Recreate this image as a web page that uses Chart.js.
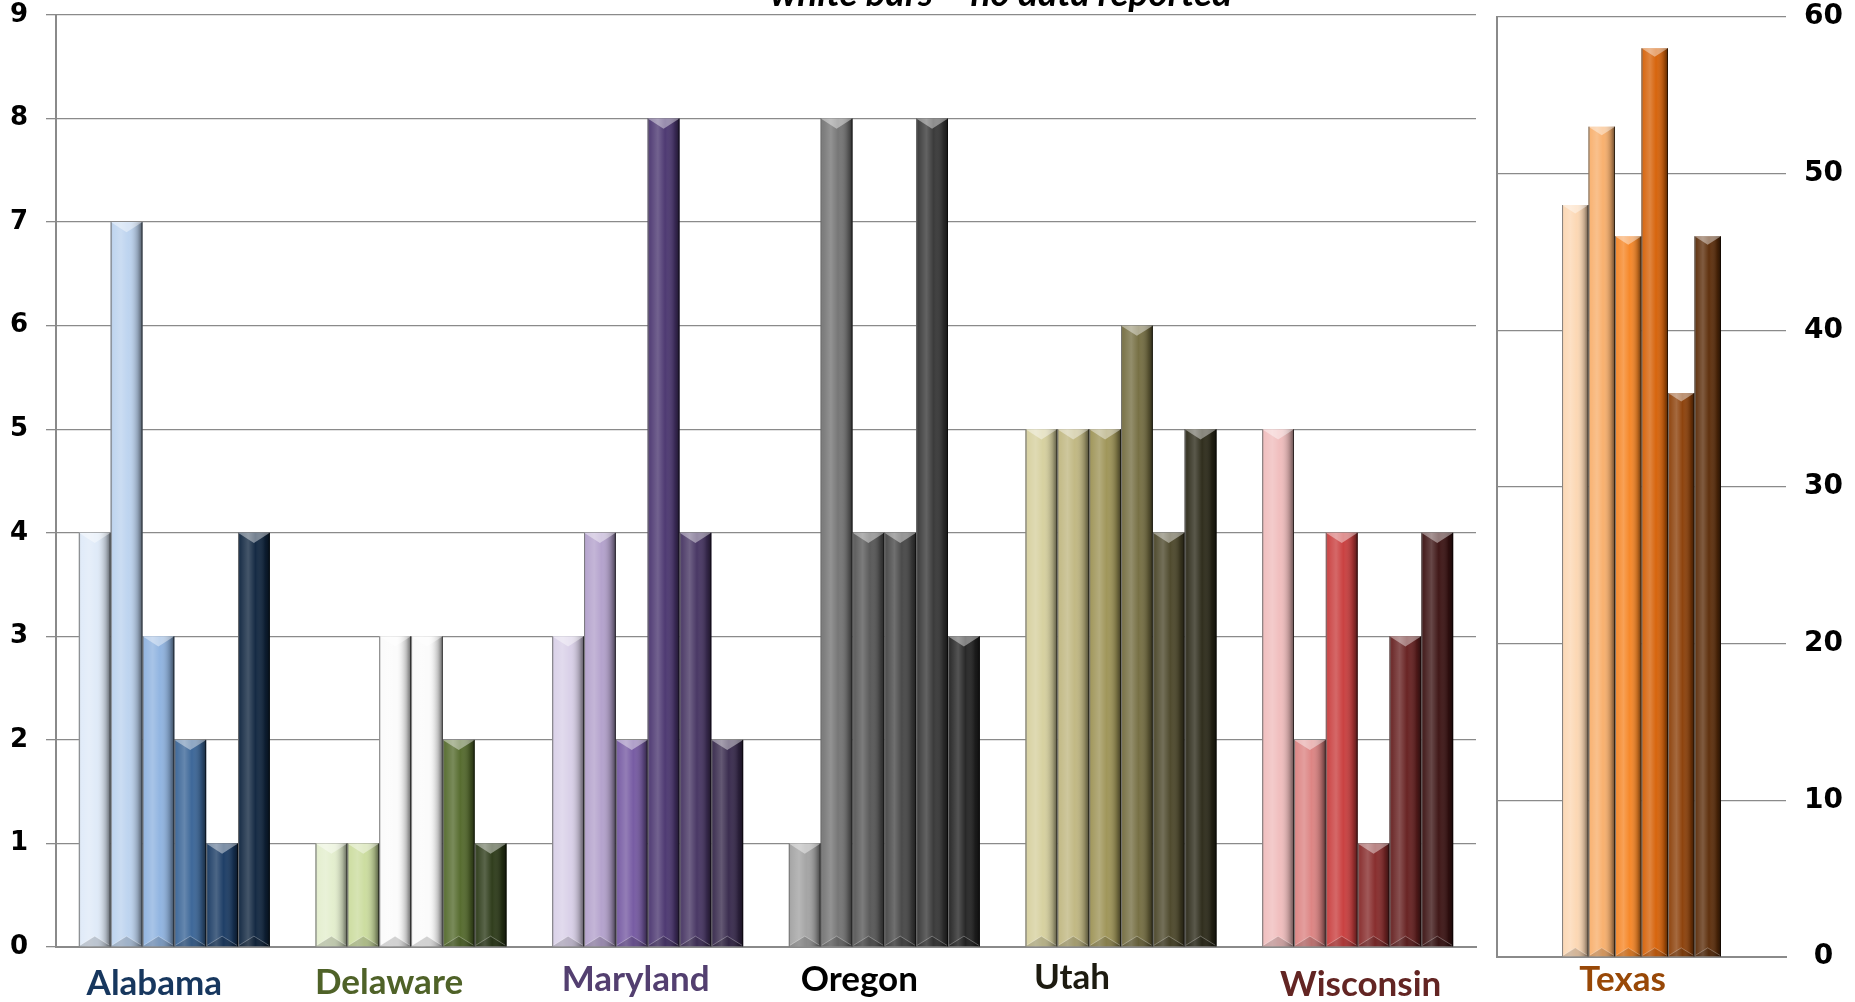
<!DOCTYPE html>
<html>
<head>
<meta charset="utf-8">
<script src="https://cdn.jsdelivr.net/npm/chart.js@4.4.0/dist/chart.umd.min.js"></script>
<style>
  html, body { margin: 0; padding: 0; background: #ffffff; width: 1855px; height: 1002px; overflow: hidden; }
  #leftBox  { position: absolute; left: 0;      top: 0; width: 1480px; height: 1002px; }
  #rightBox { position: absolute; left: 1480px; top: 0; width: 375px;  height: 1002px; }
</style>
</head>
<body>
<div id="leftBox"><canvas id="leftChart"></canvas></div>
<div id="rightBox"><canvas id="rightChart"></canvas></div>
<script>
// ---- data -------------------------------------------------------------
const states = ['Alabama', 'Delaware', 'Maryland', 'Oregon', 'Utah', 'Wisconsin'];
const bar1 = [4, 1, 3, 1, 5, 5];
const bar2 = [7, 1, 4, 8, 5, 2];
const bar3 = [3, 3, 2, 4, 5, 4];
const bar4 = [2, 3, 8, 4, 6, 1];
const bar5 = [1, 2, 4, 8, 4, 3];
const bar6 = [4, 1, 2, 3, 5, 4];

const texasLabels = ['Texas'];
const texasValues = [48, 53, 46, 58, 36, 46];

const leftAxisMax = 9,  leftAxisStep = 1;
const rightAxisMax = 60, rightAxisStep = 10;

const noteText = 'white bars = no data reported';

// ---- styling ----------------------------------------------------------
const palettes = {
  Alabama:   ['#dfeaf8', '#bcd3ef', '#8fb3e0', '#3a6597', '#1a3b64', '#102640'],
  Delaware:  ['#e3eecd', '#cbdc9e', '#fbfbfb', '#fbfbfb', '#546a2c', '#2c3a18'],
  Maryland:  ['#d9d0e8', '#b3a1cc', '#7559a2', '#4b3670', '#463462', '#37294c'],
  Oregon:    ['#a3a3a3', '#747474', '#575757', '#474747', '#373737', '#242424'],
  Utah:      ['#d6d09e', '#c0b781', '#9e9457', '#756e42', '#4c472a', '#2c2a19'],
  Wisconsin: ['#f0bdbd', '#dc8382', '#c93e3e', '#862a2a', '#662020', '#3c1313']
};
const texasColors = ['#fcd7b3', '#f8af6c', '#f68626', '#d66209', '#8c4009', '#5c2d0a'];

const labelColors = {
  Alabama: '#17375e', Delaware: '#4f6228', Maryland: '#533f70', Oregon: '#000000',
  Utah: '#1d1b10', Wisconsin: '#632523', Texas: '#984807'
};
// hand placement of the group captions (dx from group centre, baseline y)
const captionPlacement = {
  Alabama: [-20, 995], Delaware: [-22, 994], Maryland: [-12, 991], Oregon: [-25, 991],
  Utah: [-49, 989], Wisconsin: [3, 996], Texas: [-19, 991]
};

const CAPTION_FONT = 'Lato, "Open Sans", "DejaVu Sans", sans-serif';
const TICK_FONT = '"DejaVu Sans", Verdana, sans-serif';
const gridColor = '#8a8a8a';

// ---- plugins ----------------------------------------------------------
// bevelled look on every bar: side shading, top chevron and bottom facet
const bevelPlugin = {
  id: 'bevel',
  afterDatasetsDraw(chart) {
    const ctx = chart.ctx;
    chart.data.datasets.forEach((ds, di) => {
      const meta = chart.getDatasetMeta(di);
      meta.data.forEach(el => {
        const p = el.getProps(['x', 'y', 'base', 'width'], true);
        const w = p.width, L = p.x - w / 2, R = p.x + w / 2;
        const T = Math.min(p.y, p.base), B = Math.max(p.y, p.base);
        const d = Math.min(w * 0.32, (B - T) / 2);
        ctx.save();
        const g = ctx.createLinearGradient(L, 0, R, 0);
        g.addColorStop(0.00, 'rgba(0,0,0,0.32)');
        g.addColorStop(0.07, 'rgba(255,255,255,0.06)');
        g.addColorStop(0.32, 'rgba(255,255,255,0.22)');
        g.addColorStop(0.55, 'rgba(255,255,255,0.02)');
        g.addColorStop(0.85, 'rgba(0,0,0,0.24)');
        g.addColorStop(1.00, 'rgba(0,0,0,0.58)');
        ctx.fillStyle = g;
        ctx.fillRect(L, T, w, B - T);
        // top chevron
        ctx.beginPath();
        ctx.moveTo(L, T); ctx.lineTo(R, T); ctx.lineTo(p.x, T + d); ctx.closePath();
        ctx.fillStyle = 'rgba(255,255,255,0.42)';
        ctx.fill();
        // bottom facet
        ctx.beginPath();
        ctx.moveTo(L, B); ctx.lineTo(R, B); ctx.lineTo(p.x, B - d); ctx.closePath();
        ctx.fillStyle = 'rgba(0,0,0,0.16)';
        ctx.fill();
        ctx.strokeStyle = 'rgba(255,255,255,0.28)';
        ctx.lineWidth = 1;
        ctx.beginPath();
        ctx.moveTo(L + 1, B - 1); ctx.lineTo(p.x, B - d); ctx.lineTo(R - 1, B - 1);
        ctx.stroke();
        // edges
        ctx.fillStyle = 'rgba(120,120,120,0.8)';
        ctx.fillRect(L, T, 1, B - T);
        ctx.fillStyle = 'rgba(0,0,0,0.55)';
        ctx.fillRect(R - 1, T, 1, B - T);
        ctx.restore();
      });
    });
  }
};

// coloured group captions under the category axis
const captionPlugin = {
  id: 'captions',
  afterDraw(chart) {
    const xs = chart.scales.x, ctx = chart.ctx;
    ctx.save();
    ctx.font = 'bold 35px ' + CAPTION_FONT;
    ctx.textAlign = 'center';
    ctx.textBaseline = 'alphabetic';
    chart.data.labels.forEach((lab, i) => {
      const pl = captionPlacement[lab] || [0, 990];
      ctx.fillStyle = labelColors[lab] || '#000';
      ctx.fillText(lab, xs.getPixelForTick(i) + pl[0], pl[1]);
    });
    ctx.restore();
  }
};

// note across the top edge
const notePlugin = {
  id: 'note',
  afterDraw(chart) {
    const ctx = chart.ctx;
    ctx.save();
    ctx.font = 'italic bold 37px ' + CAPTION_FONT;
    ctx.fillStyle = '#000';
    ctx.textAlign = 'left';
    ctx.textBaseline = 'alphabetic';
    ctx.fillText(noteText, 770, 6);
    ctx.restore();
  }
};

// keep tick-label overhang from pushing the plot area around
function noScalePadding(s) {
  s.paddingTop = 0; s.paddingBottom = 0; s.paddingLeft = 0; s.paddingRight = 0;
}

// ---- left chart -------------------------------------------------------
const seriesLists = [bar1, bar2, bar3, bar4, bar5, bar6];
new Chart(document.getElementById('leftChart'), {
  type: 'bar',
  data: {
    labels: states,
    datasets: seriesLists.map((vals, si) => ({
      label: 'Series ' + (si + 1),
      data: vals,
      backgroundColor: states.map(s => palettes[s][si]),
      borderWidth: 0
    }))
  },
  options: {
    responsive: true,
    maintainAspectRatio: false,
    animation: false,
    devicePixelRatio: 1,
    layout: { autoPadding: false, padding: { top: 15, right: 4, left: 0, bottom: 0 } },
    datasets: { bar: { categoryPercentage: 0.807, barPercentage: 1.0 } },
    plugins: { legend: { display: false }, tooltip: { enabled: false }, title: { display: false } },
    scales: {
      x: {
        grid: { display: false },
        ticks: { display: false },
        border: { display: true, color: gridColor, width: 2 },
        afterFit(s) { noScalePadding(s); s.height = 55; }
      },
      y: {
        min: 0, max: leftAxisMax,
        ticks: { stepSize: leftAxisStep, color: '#000', padding: 18, font: { family: TICK_FONT, size: 26, weight: 'bold' } },
        grid: { color: gridColor, lineWidth: 1.3, drawTicks: true, tickLength: 10 },
        border: { display: true, color: gridColor, width: 2 },
        afterFit(s) { noScalePadding(s); s.width = 56; }
      }
    }
  },
  plugins: [bevelPlugin, captionPlugin, notePlugin]
});

// ---- right chart (own scale) -----------------------------------------
new Chart(document.getElementById('rightChart'), {
  type: 'bar',
  data: {
    labels: texasLabels,
    datasets: texasValues.map((v, i) => ({
      label: 'Series ' + (i + 1),
      data: [v],
      backgroundColor: texasColors[i],
      borderWidth: 0
    }))
  },
  options: {
    responsive: true,
    maintainAspectRatio: false,
    animation: false,
    devicePixelRatio: 1,
    layout: { autoPadding: false, padding: { top: 17, right: 0, left: 0, bottom: 0 } },
    datasets: { bar: { categoryPercentage: 0.55, barPercentage: 1.0 } },
    plugins: { legend: { display: false }, tooltip: { enabled: false } },
    scales: {
      x: {
        grid: { display: false },
        ticks: { display: false },
        border: { display: true, color: gridColor, width: 2 },
        afterFit(s) { noScalePadding(s); s.height = 45; }
      },
      y: {
        position: 'right',
        min: 0, max: rightAxisMax,
        ticks: { stepSize: rightAxisStep, color: '#000', padding: 18, crossAlign: 'center', font: { family: TICK_FONT, size: 28, weight: 'bold' } },
        grid: { color: gridColor, lineWidth: 1.3, drawTicks: false },
        border: { display: false },
        afterFit(s) { noScalePadding(s); s.width = 69; }
      },
      yLeft: {
        position: 'left',
        min: 0, max: rightAxisMax,
        ticks: { display: false },
        grid: { display: false },
        border: { display: true, color: gridColor, width: 2 },
        afterFit(s) { noScalePadding(s); s.width = 17; }
      }
    }
  },
  plugins: [bevelPlugin, captionPlugin]
});
</script>
</body>
</html>
